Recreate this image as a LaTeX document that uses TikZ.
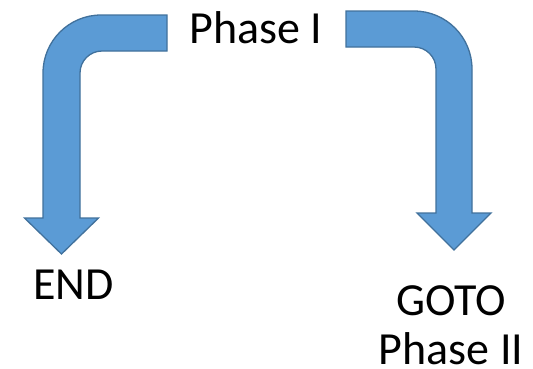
\documentclass[tikz,border=0pt]{standalone}
\usepackage{fontspec}
\setmainfont{Carlito}
\definecolor{arrowfill}{HTML}{5B9BD5}
\definecolor{arrowline}{HTML}{41719C}
\begin{document}
\begin{tikzpicture}[x=1pt,y=-1pt,
  blockarrow/.style={fill=arrowfill,draw=arrowline,line width=1.3pt,line join=miter},
  label/.style={inner sep=0pt,font=\fontsize{46}{49}\selectfont,text=black}]
\useasboundingbox (0,0) rectangle (533,368);
% left bent arrow
\path[blockarrow] (167,15) -- (167,51) -- (102,51)
  .. controls (89.85,51) and (80,60.85) .. (80,73)
  -- (80,218) -- (98.5,218) -- (61.5,254) -- (24.5,218) -- (43,218) -- (43,73)
  .. controls (43,41) and (69,15) .. (101,15) -- cycle;
% right bent arrow
\path[blockarrow] (346,11) -- (414,11)
  .. controls (446,11) and (472,37) .. (472,69)
  -- (472,213) -- (491,213) -- (454,250) -- (417,213) -- (436,213) -- (436,69)
  .. controls (436,56.85) and (426.15,47) .. (414,47)
  -- (346,47) -- cycle;
\node[label,anchor=base] (p1) at (256,43) {Phase I};
\node[label,anchor=base] (end) at (73.5,299) {END};
\node[label,anchor=base,align=center] (goto) at (451,364) {GOTO\\Phase II};
\end{tikzpicture}
\end{document}
